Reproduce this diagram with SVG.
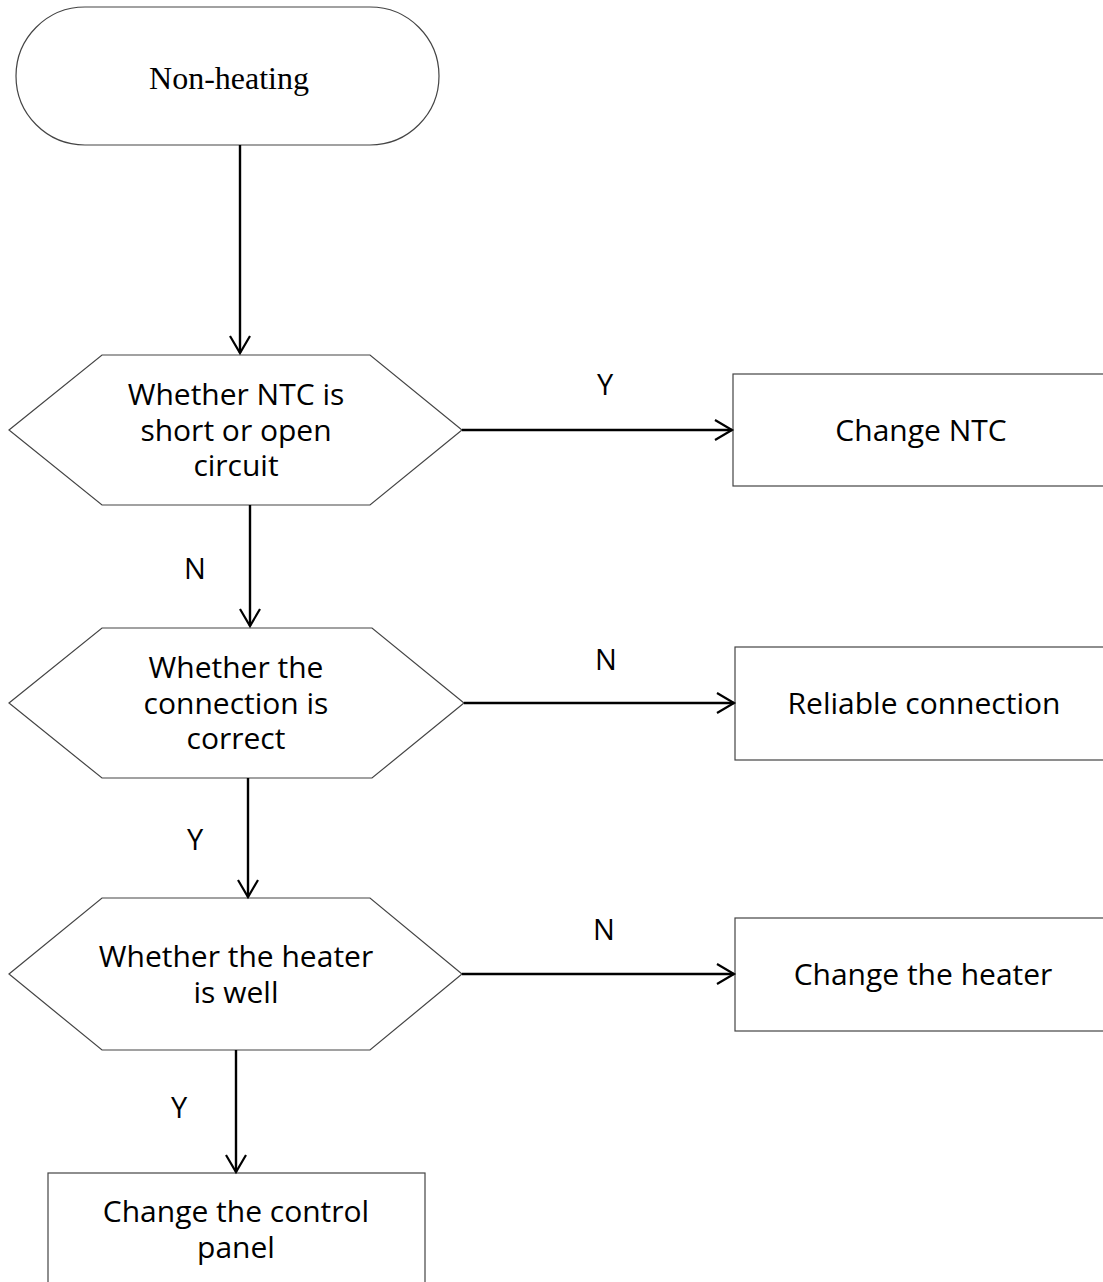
<svg xmlns="http://www.w3.org/2000/svg" width="1103" height="1282" viewBox="0 0 1103 1282">
<style>
.shape{fill:#fff;stroke:#444;stroke-width:1.2}
.conn{stroke:#000;stroke-width:2.4;fill:none}
.t{font-family:"Open Sans","Noto Sans",sans-serif;font-size:30px;fill:#000;text-anchor:middle}
.lbl{font-family:"Open Sans","Noto Sans",sans-serif;font-size:29px;fill:#000;text-anchor:middle}
.serif{font-family:"Liberation Serif",serif;font-size:32px;fill:#000;text-anchor:middle}
</style>
<defs>
<marker id="arr" markerUnits="userSpaceOnUse" markerWidth="24" markerHeight="24" viewBox="-20 -12 24 24" refX="0" refY="0" orient="auto">
<path d="M-17,-10 L0,0 L-17,10" fill="none" stroke="#000" stroke-width="2.2"/>
</marker>
</defs>
<rect width="1103" height="1282" fill="#fff"/>
<g id="start">
<rect class="shape" x="16" y="7" width="423" height="138" rx="69" ry="69"/>
<text class="serif" x="229" y="89">Non-heating</text>
</g>
<g id="d1">
<polygon class="shape" points="9,430 102,355 370,355 462,430 370,505 102,505"/>
<text class="t" x="236" y="405">Whether NTC is</text>
<text class="t" x="236" y="441">short or open</text>
<text class="t" x="236" y="476">circuit</text>
</g>
<g id="b1">
<rect class="shape" x="733" y="374" width="380" height="112"/>
<text class="t" x="921" y="441">Change NTC</text>
</g>
<g id="d2">
<polygon class="shape" points="9,703 102,628 372,628 464,703 372,778 102,778"/>
<text class="t" x="236" y="678">Whether the</text>
<text class="t" x="236" y="714">connection is</text>
<text class="t" x="236" y="749">correct</text>
</g>
<g id="b2">
<rect class="shape" x="735" y="647" width="380" height="113"/>
<text class="t" x="924" y="714">Reliable connection</text>
</g>
<g id="d3">
<polygon class="shape" points="9,974 102,898 370,898 462,974 370,1050 102,1050"/>
<text class="t" x="236" y="967">Whether the heater</text>
<text class="t" x="236" y="1003">is well</text>
</g>
<g id="b3">
<rect class="shape" x="735" y="918" width="380" height="113"/>
<text class="t" x="923" y="985">Change the heater</text>
</g>
<g id="end">
<rect class="shape" x="48" y="1173" width="377" height="130"/>
<text class="t" x="236" y="1222">Change the control</text>
<text class="t" x="236" y="1258">panel</text>
</g>
<g id="connectors">
<line class="conn" x1="240" y1="145" x2="240" y2="353" marker-end="url(#arr)"/>
<line class="conn" x1="462" y1="430" x2="732" y2="430" marker-end="url(#arr)"/>
<line class="conn" x1="250" y1="505" x2="250" y2="626" marker-end="url(#arr)"/>
<line class="conn" x1="464" y1="703" x2="734" y2="703" marker-end="url(#arr)"/>
<line class="conn" x1="248" y1="778" x2="248" y2="897" marker-end="url(#arr)"/>
<line class="conn" x1="462" y1="974" x2="734" y2="974" marker-end="url(#arr)"/>
<line class="conn" x1="236" y1="1050" x2="236" y2="1172" marker-end="url(#arr)"/>
<text class="lbl" x="605" y="395">Y</text>
<text class="lbl" x="195" y="579">N</text>
<text class="lbl" x="606" y="670">N</text>
<text class="lbl" x="195" y="850">Y</text>
<text class="lbl" x="604" y="940">N</text>
<text class="lbl" x="179" y="1118">Y</text>
</g>
</svg>
